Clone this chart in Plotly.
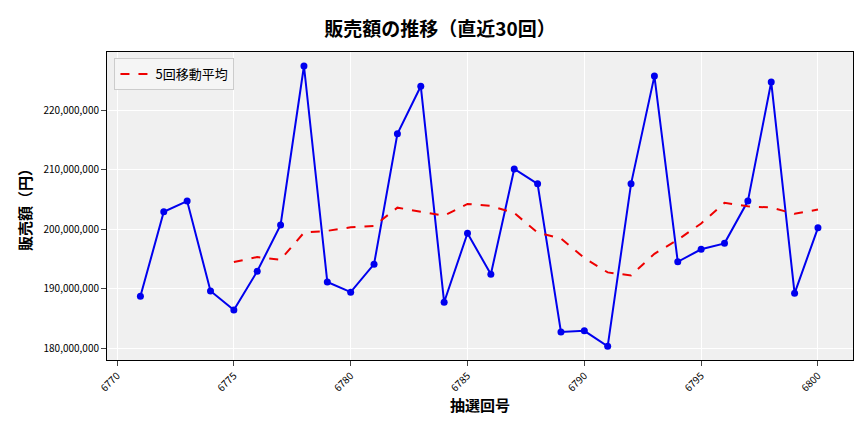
import plotly.graph_objects as go
import pandas as pd

draws = list(range(6771, 6801))
sales = [188.7, 202.9, 204.7, 189.6, 186.4, 192.9, 200.7, 227.4, 191.1, 189.4,
         194.1, 216.0, 224.0, 187.7, 199.3, 192.4, 210.1, 207.6, 182.7, 182.9,
         180.3, 207.6, 225.7, 194.5, 196.6, 197.6, 204.7, 224.7, 189.2, 200.2]
sales = [v * 1e6 for v in sales]
ma5 = pd.Series(sales).rolling(5).mean().tolist()

font = "Noto Sans CJK JP"
fig = go.Figure()
fig.add_trace(go.Scatter(x=draws, y=sales, mode="lines+markers", showlegend=False,
                         line=dict(color="#0000ee", width=2), marker=dict(color="#0000ee", size=7)))
fig.add_trace(go.Scatter(x=draws, y=ma5, mode="lines", name="5回移動平均",
                         line=dict(color="#ee0000", width=2, dash="dash")))
fig.update_layout(
    width=864, height=432, paper_bgcolor="white", plot_bgcolor="#f0f0f0",
    margin=dict(l=99, r=19, t=44, b=80),
    font=dict(family=font, size=11, color="black"),
    title=dict(text="<b>販売額の推移（直近30回）</b>", x=0.5, xanchor="center", y=0.965,
               font=dict(size=19)),
    legend=dict(x=0.01, y=0.98, xanchor="left", yanchor="top", bgcolor="rgba(245,245,245,0.9)",
                bordercolor="#cccccc", borderwidth=1, font=dict(size=13)),
)
fig.update_xaxes(range=[6769.57, 6801.5], tickvals=list(range(6770, 6801, 5)), tickangle=-45,
                 showgrid=True, gridcolor="white", showline=True, linecolor="black", mirror=True,
                 ticks="outside", tickfont=dict(size=10),
                 title=dict(text="<b>抽選回号</b>", font=dict(size=15), standoff=6), zeroline=False)
fig.update_yaxes(range=[178.0e6, 229.75e6], tickvals=[v * 1e6 for v in range(180, 221, 10)],
                 tickformat=",d", showgrid=True, gridcolor="white", showline=True, linecolor="black",
                 mirror=True, ticks="outside", tickfont=dict(size=10),
                 title=dict(text="<b>販売額（円）</b>", font=dict(size=15), standoff=8), zeroline=False)
fig.write_html("out.html")
